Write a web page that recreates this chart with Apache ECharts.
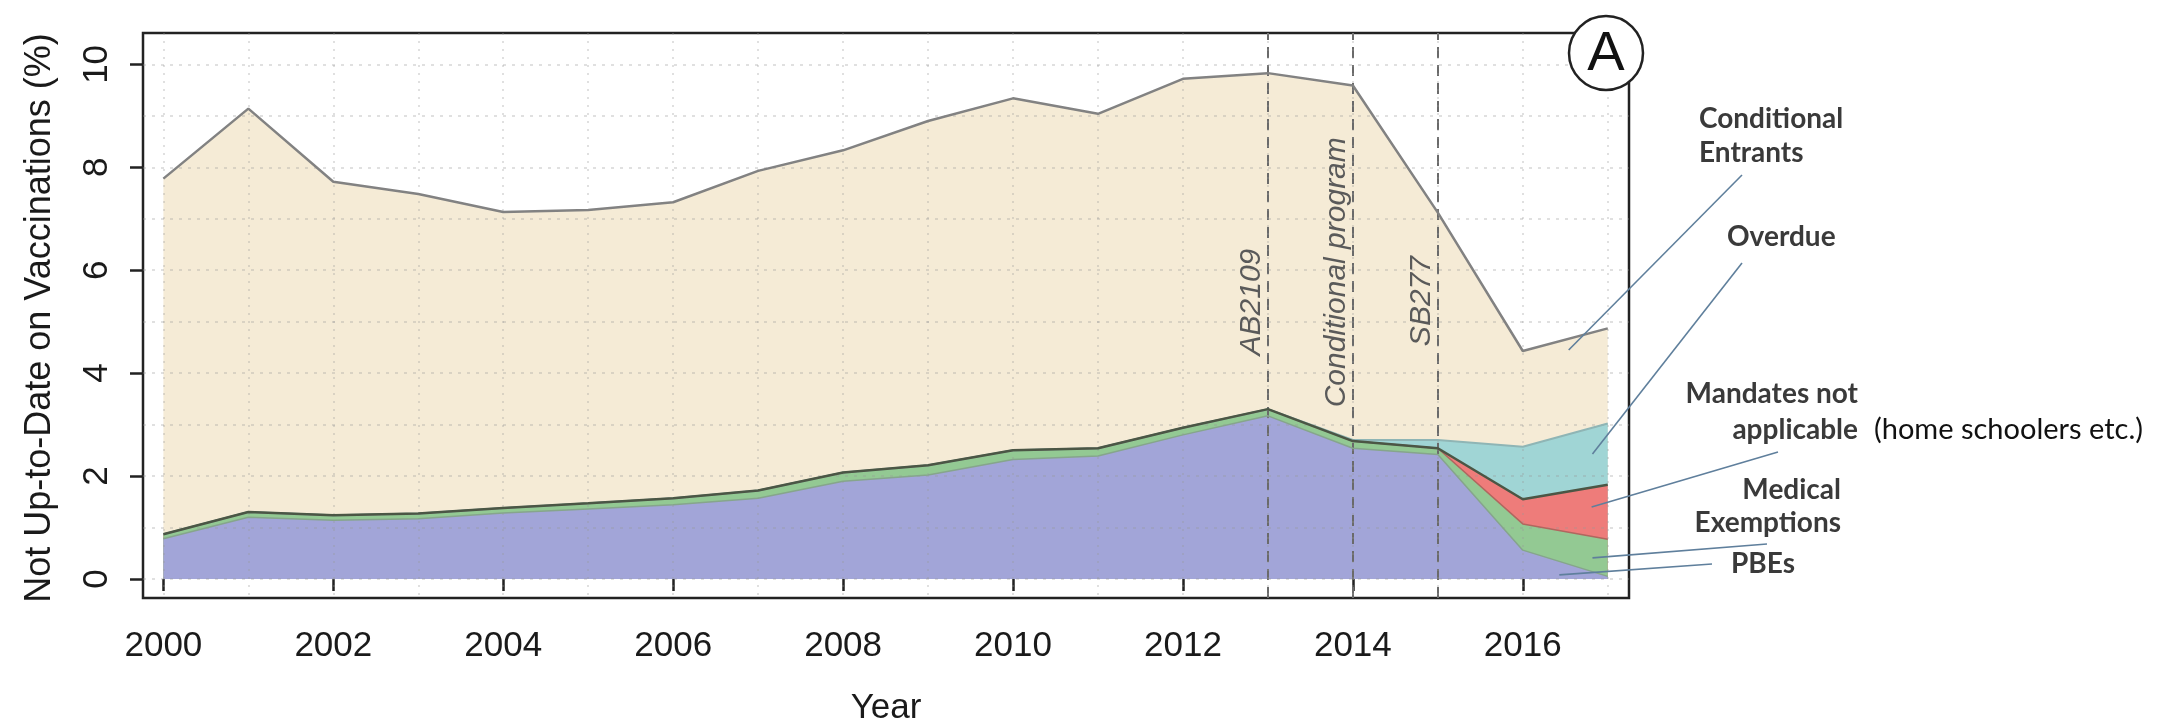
<!DOCTYPE html>
<html><head><meta charset="utf-8">
<script src="https://cdn.jsdelivr.net/npm/echarts@6/dist/echarts.min.js"></script>
<style>html,body{margin:0;padding:0;background:#fff}#c{width:2157px;height:727px}</style>
</head><body><div id="c"></div>
<script>
// ---- data ----
const years       = [2000,2001,2002,2003,2004,2005,2006,2007,2008,2009,2010,2011,2012,2013,2014,2015,2016,2017];
const pbe         = [0.78,1.20,1.14,1.17,1.28,1.36,1.44,1.57,1.90,2.02,2.32,2.39,2.80,3.17,2.54,2.42,0.56,0.05];
const medical     = [0.09,0.10,0.10,0.10,0.10,0.11,0.13,0.15,0.17,0.19,0.18,0.15,0.14,0.13,0.14,0.12,0.51,0.72];
const mandatesNA  = [0,0,0,0,0,0,0,0,0,0,0,0,0,0,0,0,0.48,1.06];
const overdue     = [0,0,0,0,0,0,0,0,0,0,0,0,0,0,0.02,0.16,1.02,1.19];
const conditional = [6.91,7.84,6.48,6.21,5.75,5.70,5.75,6.21,6.26,6.69,6.84,6.50,6.78,6.53,6.89,4.42,1.86,1.85];
const xTickLabels = [2000,2002,2004,2006,2008,2010,2012,2014,2016];
const yTickLabels = [0,2,4,6,8,10];
const gridXValues = years;
const gridYValues = [0,1,2,3,4,5,6,7,8,9,10];
const eventYears  = [2013,2014,2015];
const eventLabels = ['AB2109','Conditional program','SB277'];
const layerNames  = ['PBEs','Medical Exemptions','Mandates not applicable','Overdue','Conditional Entrants'];

// ---- styles ----
const layerData   = [pbe, medical, mandatesNA, overdue, conditional];
const fillColors  = ['#a2a5d8','#93c993','#ee7c7a','#a0d5d5','#f5ebd6'];
const lineColors  = ['#86a58c','#b0675f','#4b5645','#8fb5b5','#828282'];
const lineWidths  = [1.5,1.5,2.5,2,2.5];
const lineZ       = [11,12,15,13,14];

const GRID = {left:143, top:33, width:1486, height:565};
const XR = [1999.76, 2017.25], YR = [-0.37, 10.61];
const FONT = '"Liberation Sans", Arial, Helvetica, sans-serif';
const LFONT = 'Lato, "Open Sans", sans-serif';

// stacked (cumulative) layers computed from the component arrays
const cumulative = [];
let running = years.map(()=>0);
layerData.forEach(layer=>{
  running = running.map((v,i)=>Math.round((v+layer[i])*10000)/10000);
  cumulative.push(running);
});

const chart = echarts.init(document.getElementById('c'), null, {renderer:'canvas'});
const pairs = arr => arr.map((v,i)=>[years[i], v]);

const series = [];
// areas: top layer first, lower layers painted over it
for (let i = layerData.length-1; i >= 0; i--) {
  series.push({
    name: layerNames[i], type:'line', data: pairs(cumulative[i]),
    xAxisIndex:0, yAxisIndex:0, showSymbol:false, symbol:'none',
    lineStyle:{width:0, opacity:0}, areaStyle:{color:fillColors[i], opacity:1, origin:0},
    z:2, silent:true
  });
}
// boundary lines
layerData.forEach((d,i)=>{
  const s = {
    name: layerNames[i]+' line', type:'line', data: pairs(cumulative[i]),
    xAxisIndex:0, yAxisIndex:0, showSymbol:false, symbol:'none',
    lineStyle:{width:lineWidths[i], color:lineColors[i]}, z:lineZ[i], silent:true
  };
  if (i === 4) {
    s.markLine = {
      silent:true, symbol:['none','none'], label:{show:false},
      lineStyle:{type:[11,7], color:'#6a6a6a', width:2},
      data: eventYears.map(y=>({xAxis:y}))
    };
  }
  series.push(s);
});

const option = {
  animation:false,
  backgroundColor:'#ffffff',
  grid:[
    Object.assign({show:true, borderColor:'#222', borderWidth:2.5, backgroundColor:'#fff', z:0}, GRID),
    Object.assign({show:false}, GRID)
  ],
  xAxis:[
    {type:'value', gridIndex:0, min:XR[0], max:XR[1],
     axisLine:{show:false}, splitLine:{show:false},
     axisTick:{show:true, length:12, lineStyle:{color:'#222', width:2.5}, customValues:xTickLabels},
     axisLabel:{show:true, customValues:xTickLabels, margin:31, fontSize:35, color:'#1a1a1a', fontFamily:FONT, formatter: v=>String(v)}},
    {type:'value', gridIndex:1, min:XR[0], max:XR[1], z:8,
     axisLine:{show:false}, axisLabel:{show:false},
     axisTick:{show:false, customValues:gridXValues},
     splitLine:{show:true, lineStyle:{color:'rgba(150,150,150,0.4)', width:1.5, type:[2,6]}}}
  ],
  yAxis:[
    {type:'value', gridIndex:0, min:YR[0], max:YR[1],
     axisLine:{show:false}, splitLine:{show:false},
     axisTick:{show:true, length:13, lineStyle:{color:'#222', width:2.5}, customValues:yTickLabels},
     axisLabel:{show:true, customValues:yTickLabels, rotate:90, margin:28, fontSize:35, color:'#1a1a1a', fontFamily:FONT}},
    {type:'value', gridIndex:1, min:YR[0], max:YR[1], z:8,
     axisLine:{show:false}, axisLabel:{show:false},
     axisTick:{show:false, customValues:gridYValues},
     splitLine:{show:true, lineStyle:{color:'rgba(150,150,150,0.4)', width:1.5, type:[3,6]}}}
  ],
  series: series
};
chart.setOption(option);

const px = (x,y)=>chart.convertToPixel({gridIndex:0},[x,y]);

// annotation texts (right side) and pointers
const txtStyle = (t,x,y,align,bold,color,size)=>({type:'text', z:50, style:{text:t, x:x, y:y, align:align, verticalAlign:'middle',
   font:(bold?'bold ':'')+(size||28)+'px '+LFONT, fill:color||'#3a3a3a'}});
const pointerTargets = [[2016.54,4.45],[2016.82,2.43],[2016.81,1.40],[2016.82,0.41],[2016.43,0.08]];
const pointerStarts  = [[1742,175],[1742,263],[1778,452],[1767,544],[1712,564]];
const graphics = [];
pointerTargets.forEach((t,i)=>{
  const p = px(t[0],t[1]);
  graphics.push({type:'line', z:40, shape:{x1:pointerStarts[i][0], y1:pointerStarts[i][1], x2:p[0], y2:p[1]},
    style:{stroke:'#5f7f9c', lineWidth:1.6}});
});
graphics.push(txtStyle('Conditional',1699,119,'left',true));
graphics.push(txtStyle('Entrants',1699,153,'left',true));
graphics.push(txtStyle('Overdue',1727,237,'left',true));
graphics.push(txtStyle('Mandates not',1858,394,'right',true));
graphics.push(txtStyle('applicable',1858,430,'right',true));
graphics.push(txtStyle('(home schoolers etc.)',1874,430,'left',false,'#111',29));
graphics.push(txtStyle('Medical',1841,490,'right',true));
graphics.push(txtStyle('Exemptions',1841,523,'right',true));
graphics.push(txtStyle('PBEs',1731,564,'left',true));

// event labels along the dashed lines
const eventLabelPos = [[2012.81,5.38],[2013.81,5.96],[2014.81,5.40]];
eventLabels.forEach((t,i)=>{
  const p = px(eventLabelPos[i][0], eventLabelPos[i][1]);
  graphics.push({type:'text', z:50, x:p[0], y:p[1], rotation:Math.PI/2,
    style:{text:t, x:0, y:0, align:'center', verticalAlign:'middle', font:'italic 30px '+FONT, fill:'#5a5a5a'}});
});

// panel letter
graphics.push({type:'circle', z:60, shape:{cx:1606, cy:53, r:37}, style:{fill:'#fff', stroke:'#222', lineWidth:2.5}});
graphics.push({type:'text', z:61, style:{text:'A', x:1606, y:55, align:'center', verticalAlign:'middle', font:'56px '+FONT, fill:'#111'}});

// axis titles
graphics.push({type:'text', z:50, x:40, y:318, rotation:Math.PI/2,
  style:{text:'Not Up-to-Date on Vaccinations (%)', x:0, y:0, align:'center', verticalAlign:'middle', font:'36px '+FONT, fill:'#1a1a1a'}});
graphics.push({type:'text', z:50, style:{text:'Year', x:886, y:708, align:'center', verticalAlign:'middle', font:'35px '+FONT, fill:'#1a1a1a'}});

chart.setOption({graphic:{elements:graphics}});
</script></body></html>
